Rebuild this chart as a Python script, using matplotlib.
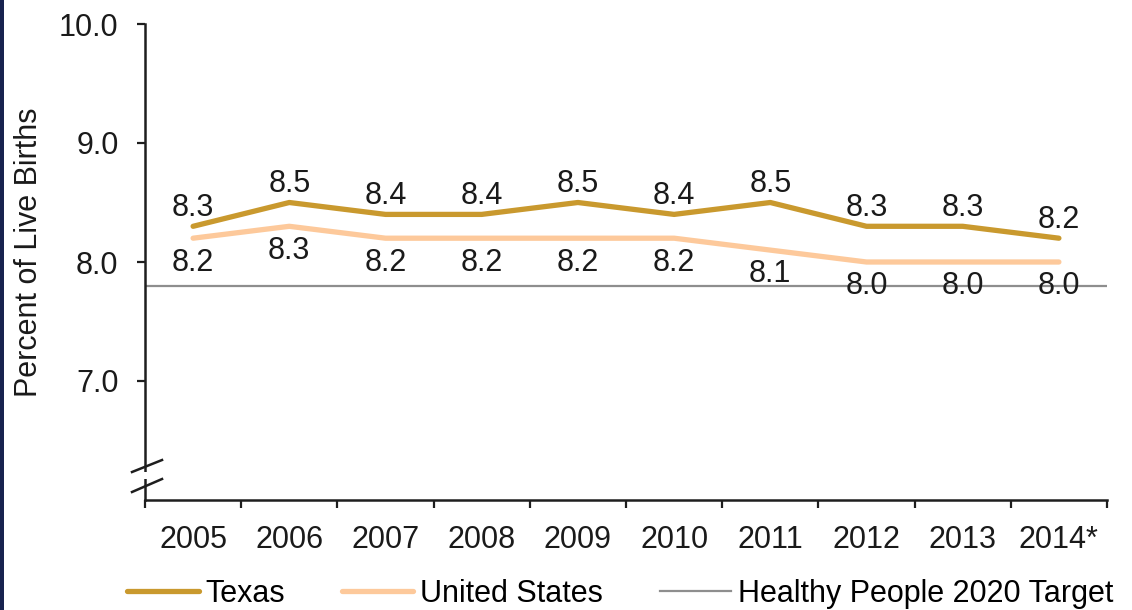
import numpy as np
import matplotlib
matplotlib.use("Agg")
import matplotlib.pyplot as plt
from matplotlib.patches import Rectangle

plt.rcParams['font.family'] = ['Liberation Sans', 'DejaVu Sans']

years = ['2005', '2006', '2007', '2008', '2009', '2010', '2011', '2012', '2013', '2014*']
texas = [8.3, 8.5, 8.4, 8.4, 8.5, 8.4, 8.5, 8.3, 8.3, 8.2]
united_states = [8.2, 8.3, 8.2, 8.2, 8.2, 8.2, 8.1, 8.0, 8.0, 8.0]
hp2020_target = 7.8

texas_color = '#C9992E'
us_color = '#FDC99B'
target_color = '#8E8E8E'
axis_color = '#1E1E1E'
fs = 22

fig = plt.figure(figsize=(11.32, 6.10), dpi=100)
ax = fig.add_axes([145 / 1132, 110 / 610, 962 / 1132, 476 / 610])

x = np.arange(len(years))
l_tg = ax.axhline(hp2020_target, color=target_color, lw=1.6, zorder=1)
l_us, = ax.plot(x, united_states, color=us_color, lw=3.8, solid_capstyle='round', zorder=2)
l_tx, = ax.plot(x, texas, color=texas_color, lw=3.8, solid_capstyle='round', zorder=3)

# value labels: Texas above, US below
for xi, v in zip(x, texas):
    ax.annotate(f'{v:.1f}', (xi, v), xytext=(0, 13), textcoords='offset points',
                ha='center', va='center', fontsize=fs, color='#1a1a1a')
for xi, v in zip(x, united_states):
    ax.annotate(f'{v:.1f}', (xi, v), xytext=(0, -17.5), textcoords='offset points',
                ha='center', va='center', fontsize=fs, color='#1a1a1a')

ax.set_xlim(-0.5, len(years) - 0.5)
ax.set_ylim(6.0, 10.0)
ax.set_yticks([7.0, 8.0, 9.0, 10.0])
ax.set_yticklabels(['7.0', '8.0', '9.0', '10.0'])
ax.set_xticks(x)
ax.set_xticklabels(years)
ax.set_xticks(np.arange(-0.5, len(years)), minor=True)
ax.tick_params(axis='x', which='major', length=0, pad=18, labelsize=fs, colors='#1a1a1a')
ax.tick_params(axis='x', which='minor', length=6, width=1.6, color=axis_color)
ax.tick_params(axis='y', which='major', length=6, width=1.6, pad=13, labelsize=fs,
               color=axis_color, labelcolor='#1a1a1a')

for s in ['top', 'right']:
    ax.spines[s].set_visible(False)
for s in ['left', 'bottom']:
    ax.spines[s].set_color(axis_color)
    ax.spines[s].set_linewidth(1.8)

# axis break marks on the y axis
ax.add_patch(Rectangle((-0.01, 0.045), 0.02, 0.014, transform=ax.transAxes,
                       facecolor='white', edgecolor='none', clip_on=False, zorder=5))
for y0, y1 in [(0.0588, 0.084), (0.0168, 0.0441)]:
    ax.plot([-0.0135, 0.0177], [y0, y1], transform=ax.transAxes, color=axis_color,
            lw=1.8, clip_on=False, zorder=6)

fig.text(29 / 1132, 1 - 252 / 610, 'Percent of Live Births', rotation=90,
         ha='center', va='center', fontsize=fs, color='#1a1a1a')

fig.legend(handles=[l_tx, l_us, l_tg], labels=['Texas', 'United States', 'Healthy People 2020 Target'],
           loc='center left', bbox_to_anchor=(127 / 1132, 1 - 594 / 610), ncol=3, frameon=False,
           fontsize=fs, borderpad=0, borderaxespad=0, handlelength=2.35, handletextpad=0.22,
           columnspacing=1.85)

fig.add_artist(Rectangle((0, 0), 4 / 1132, 1, transform=fig.transFigure,
                         facecolor='#17224F', edgecolor='none'))

fig.savefig('out.png', dpi=100, facecolor='white')
